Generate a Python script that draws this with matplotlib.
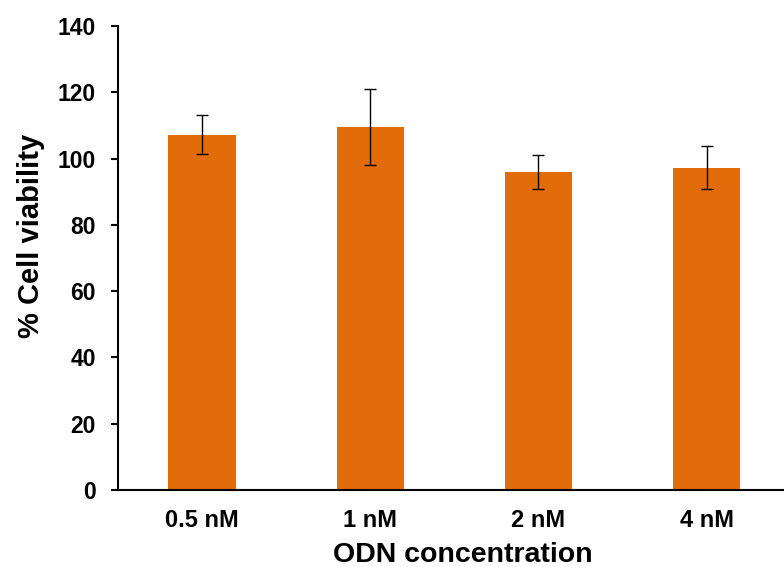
import numpy as np
import matplotlib.pyplot as plt

# Data
categories = ['0.5 nM', '1 nM', '2 nM', '4 nM']
viability = [107.3, 109.6, 96.0, 97.3]
errors = [5.8, 11.5, 5.1, 6.4]

plt.rcParams['font.family'] = ['Liberation Sans', 'DejaVu Sans']
plt.rcParams['font.weight'] = 'bold'

fig = plt.figure(figsize=(7.84, 5.67), dpi=100)
ax = fig.add_axes([0.1505, 0.1358, 0.858, 0.818])

x = np.arange(len(categories))
ax.bar(x, viability, width=0.4, color='#E36C0A', zorder=2)
ax.errorbar(x, viability, yerr=errors, fmt='none', ecolor='black',
            elinewidth=1, capsize=4, capthick=1, zorder=3)

ax.set_xlim(-0.5, 3.5)
ax.set_ylim(0, 140)
ax.set_yticks(range(0, 141, 20))
ax.set_xticks(x)
ax.set_xticklabels(categories)
ax.tick_params(axis='x', length=0, labelsize=17, pad=14)
ax.tick_params(axis='y', length=5, width=1.5, labelsize=16.5, pad=11)
for lbl in ax.get_xticklabels() + ax.get_yticklabels():
    lbl.set_fontweight('bold')

ax.spines['top'].set_visible(False)
ax.spines['right'].set_visible(False)
ax.spines['left'].set_linewidth(1.5)
ax.spines['bottom'].set_linewidth(1.5)

ax.set_xlabel('ODN concentration', fontsize=20.5, fontweight='bold')
ax.set_ylabel('% Cell viability', fontsize=21, fontweight='bold', va='center')
ax.xaxis.set_label_coords(0.513, -0.112)
ax.yaxis.set_label_coords(-0.129, 0.547)

fig.savefig('out.png', dpi=100)
